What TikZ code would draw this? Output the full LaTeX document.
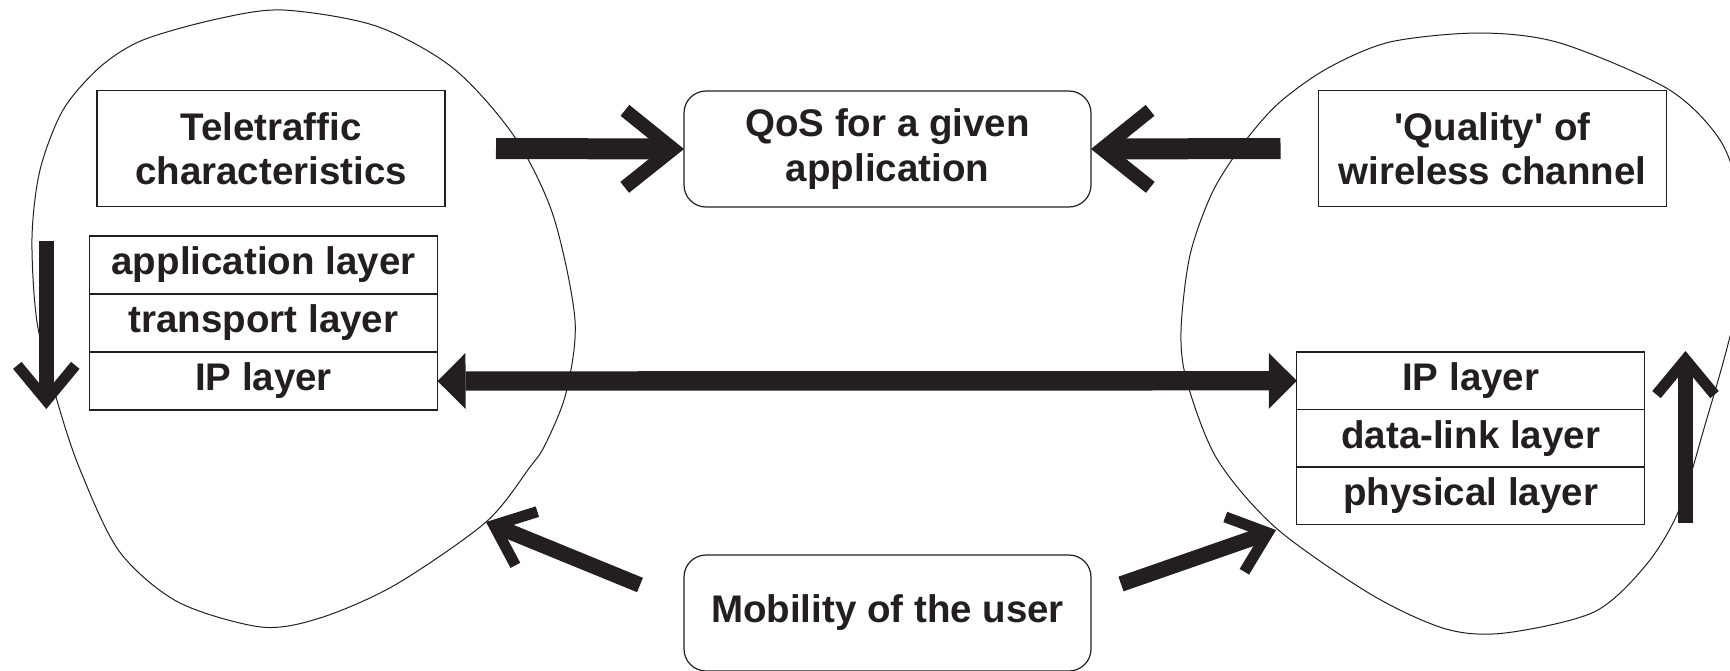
\documentclass[tikz,border=0pt]{standalone}
\usepackage{fontspec}
\setmainfont{Liberation Sans}
\usetikzlibrary{arrows.meta,calc}
\definecolor{ink}{RGB}{35,31,32}
\begin{document}
\begin{tikzpicture}[x=0.5pt,y=-0.5pt,
  txt/.style={font=\fontsize{19.25pt}{22.15pt}\selectfont\bfseries, text=ink},
  sqbox/.style={txt, draw=ink, fill=white, line width=0.6pt, inner sep=0pt, outer sep=0pt, align=center, minimum width=174pt, minimum height=58pt},
  rbox/.style={sqbox, rounded corners=11pt, minimum width=203.5pt},
  layer/.style={sqbox, minimum height=29pt},
  rlayer/.style={sqbox, minimum height=28.75pt},
  blob/.style={draw=ink, line width=0.5pt},
  bigarrow/.style={draw=ink, line width=10.5pt, -{Straight Barb[length=24pt,width=38.5pt,line width=7pt,sharp]}},
  smallarrow/.style={draw=ink, line width=7.75pt, -{Straight Barb[length=17.5pt,width=29pt,line width=5.5pt,sharp]}},
  duplex/.style={draw=ink, line width=9.7pt, {Triangle[length=14pt,width=28pt,line width=0pt]}-{Triangle[length=14pt,width=28pt,line width=0pt]}}
]
\useasboundingbox (0,0) rectangle (1730,670);
\clip (0,0) rectangle (1730,670);

% blobs
\draw[blob] plot[smooth cycle] coordinates {
  (283,10) (376,26) (453,68) (514,136) (553,215) (575,320) (566,393) (545,445)
  (530,467) (486,522) (395,585) (320,618) (261,627) (178,602) (119,551) (79,467)
  (56,397) (37,322) (32,238) (40,170) (63,110) (100,67) (143,40) (217,19)};
\draw[blob] plot[smooth cycle] coordinates {
  (1390,42) (1480,33) (1560,43) (1668,89) (1720,140) (1740,200) (1742,280)
  (1727,348) (1705,425) (1679,510) (1646,565) (1594,612) (1505,633) (1446,629)
  (1372,595) (1276,528) (1217,459) (1187,382) (1181,331) (1190,255) (1213,191)
  (1246,140) (1280,102) (1328,68)};

% boxes
\node[sqbox] (tele) at (271,148.5) {Teletraffic\\characteristics};
\node[rbox] (qos) at (887.5,149) {QoS for a given\\application};
\node[sqbox] (qual) at (1492.5,148.5) {\textquotesingle Quality\textquotesingle{} of\\wireless channel};
\node[rbox] (mob) at (887.5,613) {Mobility of the user};

\node[layer] (app) at (263.5,265) {application layer};
\node[layer] (trans) at (263.5,323) {transport layer};
\node[layer] (lip) at (263.5,381) {IP layer};

\node[rlayer] (rip) at (1470.75,380.75) {IP layer};
\node[rlayer] (dl) at (1470.75,438.25) {data-link layer};
\node[rlayer] (phys) at (1470.75,495.75) {physical layer};

% free ends
\coordinate (lvs) at (46.3,241);
\coordinate (lve) at (46.3,409);
\coordinate (rvs) at (1685.5,523);
\coordinate (rve) at (1685.5,351);
\coordinate (lhit) at (486,522);
\coordinate (rhit) at (1276,530);

% connectors
\draw[bigarrow] ([xshift=25.5pt]tele.east) -- (qos.west);
\draw[bigarrow] ([xshift=-19pt]qual.west) -- (qos.east);
\draw[duplex] (lip.east) -- (rip.west);
\draw[smallarrow] (lvs) -- (lve);
\draw[smallarrow] (rvs) -- (rve);
\draw[smallarrow] ($(mob.west)+(-44,-28)$) -- (lhit);
\draw[smallarrow] ($(mob.east)+(30,-29)$) -- (rhit);
\end{tikzpicture}
\end{document}
